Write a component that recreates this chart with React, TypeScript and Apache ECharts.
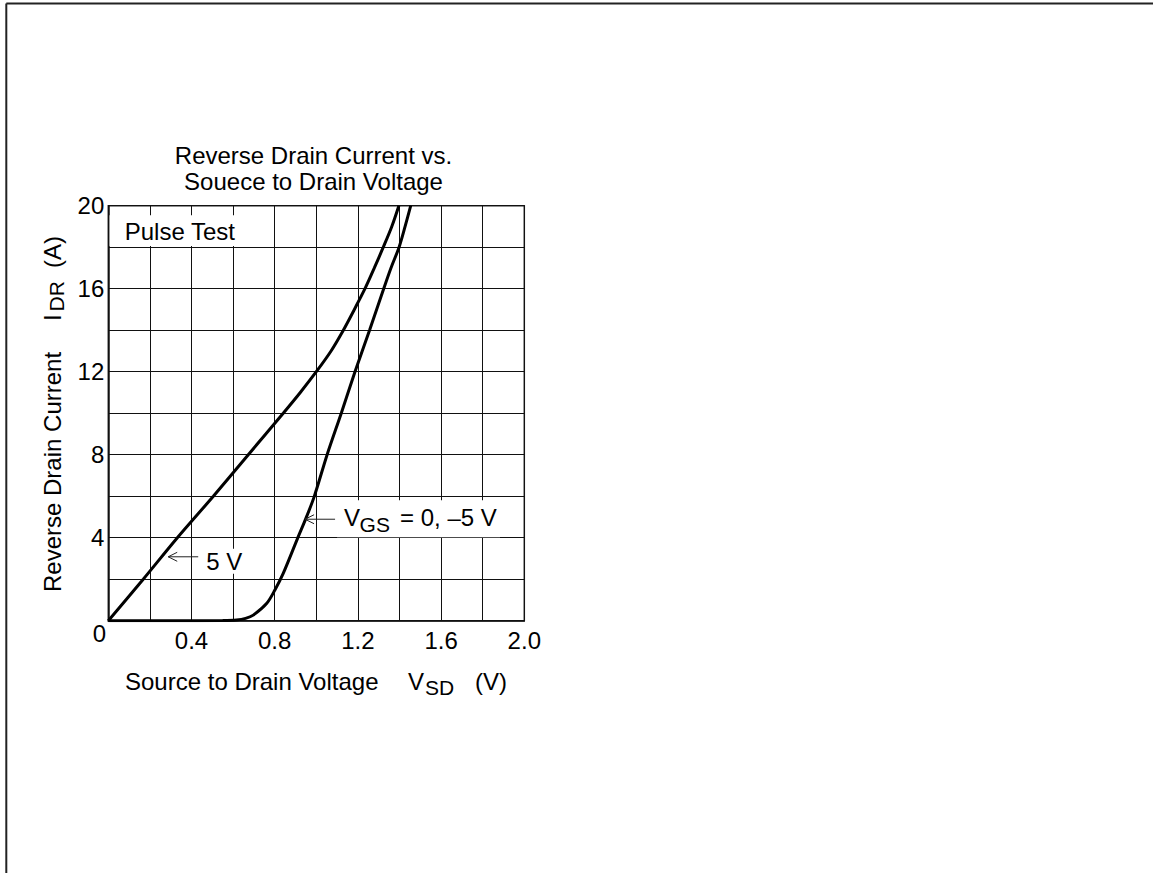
import React, { useEffect, useRef } from "react";
import * as echarts from "echarts";

// Axis ranges
const X_MIN = 0;
const X_MAX = 2.0;
const X_STEP = 0.2;
const Y_MIN = 0;
const Y_MAX = 20;
const Y_STEP = 2;

// Curve "5 V"
const V5_VSD = [0, 0.168, 0.332, 0.505, 0.673, 0.841, 0.923, 1.0, 1.071, 1.13, 1.183, 1.234, 1.279, 1.322, 1.363, 1.397];
const V5_IDR = [0, 2, 4, 6, 8, 10, 11, 12, 13, 14, 15, 16, 17, 18, 19, 20];

// Curve "VGS = 0, -5 V"
const V0_VSD = [0, 0.3, 0.55, 0.617, 0.66, 0.697, 0.762, 0.801, 0.841, 0.91, 0.95, 0.99, 1.052, 1.12, 1.186, 1.256, 1.324, 1.359, 1.398, 1.427, 1.454];
const V0_IDR = [0, 0, 0.005, 0.03, 0.11, 0.27, 0.84, 1.48, 2.28, 3.97, 4.93, 5.98, 8, 10, 12, 14, 16, 17, 18, 19, 20];

const TITLE_LINES = ["Reverse Drain Current vs.", "Souece to Drain Voltage"];

const FONT_FAMILY = '"Liberation Sans", Arial, Helvetica, sans-serif';
const f = (size: number) => `${size}px ${FONT_FAMILY}`;

const zip = (xs: number[], ys: number[]) => xs.map((x, i) => [x, ys[i]]);

export default function App() {
  const ref = useRef<HTMLDivElement | null>(null);

  useEffect(() => {
    document.body.style.margin = "0";
    document.documentElement.style.overflow = "hidden";
    const el = ref.current;
    if (!el) return;
    const chart = echarts.init(el, null, { renderer: "svg" });

    const option: any = {
      animation: false,
      backgroundColor: "#fff",
      grid: {
        left: 108.3,
        right: 1153 - 524.3,
        top: 205.7,
        bottom: 873 - 620.7,
        show: true,
        borderColor: "#222",
        borderWidth: 1.5,
        backgroundColor: "transparent",
      },
      xAxis: {
        type: "value",
        min: X_MIN,
        max: X_MAX,
        interval: X_STEP,
        axisLine: { show: true, lineStyle: { color: "#111", width: 1.5 } },
        axisTick: { show: false },
        splitLine: { show: true, lineStyle: { color: "#111", width: 1 } },
        axisLabel: {
          color: "#000",
          fontSize: 24,
          fontFamily: FONT_FAMILY,
          margin: 8,
          formatter: (v: number) => {
            const k = Math.round(v * 10);
            return k > 0 && k % 4 === 0 ? (k / 10).toFixed(1) : "";
          },
        },
      },
      yAxis: {
        type: "value",
        min: Y_MIN,
        max: Y_MAX,
        interval: Y_STEP,
        axisLine: { show: true, lineStyle: { color: "#111", width: 1.5 } },
        axisTick: { show: false },
        splitLine: { show: true, lineStyle: { color: "#111", width: 1 } },
        axisLabel: {
          color: "#000",
          fontSize: 24,
          fontFamily: FONT_FAMILY,
          margin: 4,
          formatter: (v: number) => {
            const k = Math.round(v);
            return k > 0 && k % 4 === 0 ? String(k) : "";
          },
        },
      },
      series: [
        {
          name: "5 V",
          type: "line",
          data: zip(V5_VSD, V5_IDR),
          showSymbol: false,
          symbol: "none",
          smooth: 0.3,
          lineStyle: { color: "#000", width: 3 },
          z: 5,
        },
        {
          name: "VGS = 0, -5 V",
          type: "line",
          data: zip(V0_VSD, V0_IDR),
          showSymbol: false,
          symbol: "none",
          smooth: 0.3,
          lineStyle: { color: "#000", width: 3 },
          z: 5,
        },
      ],
    };
    chart.setOption(option);

    const p = (x: number, y: number) => chart.convertToPixel({ gridIndex: 0 }, [x, y]) as number[];

    const txt = (text: string, x: number, y: number, size: number, align = "left", rotation = 0) => ({
      type: "text",
      x,
      y,
      rotation,
      z: 60,
      silent: true,
      style: {
        text,
        font: f(size),
        fill: "#000",
        textAlign: align,
        textVerticalAlign: "middle",
      },
    });
    const white = (x1: number, y1: number, x2: number, y2: number) => ({
      type: "rect",
      z: 50,
      silent: true,
      shape: { x: Math.min(x1, x2), y: Math.min(y1, y2), width: Math.abs(x2 - x1), height: Math.abs(y2 - y1) },
      style: { fill: "#fff" },
    });
    const arrow = (tx: number, ty: number, len: number) => [
      {
        type: "line",
        z: 60,
        silent: true,
        shape: { x1: tx, y1: ty, x2: tx + len, y2: ty },
        style: { stroke: "#222", lineWidth: 1 },
      },
      {
        type: "polyline",
        z: 60,
        silent: true,
        shape: { points: [[tx + 9, ty - 4.5], [tx, ty], [tx + 9, ty + 4.5]] },
        style: { stroke: "#222", lineWidth: 1, fill: null },
      },
    ];

    const origin = p(0, 0);
    const pulseA = p(0.006, 19.54);
    const pulseB = p(0.655, 18.06);
    const pulseT = p(0.079, 18.75);
    const t5 = p(0.288, 3.08);
    const t0 = p(0.946, 4.89);

    const graphic: any[] = [
      // page frame
      { type: "line", silent: true, shape: { x1: 6.3, y1: 3.5, x2: 1160, y2: 3.5 }, style: { stroke: "#222", lineWidth: 2 } },
      { type: "line", silent: true, shape: { x1: 6.3, y1: 3.5, x2: 6.3, y2: 880 }, style: { stroke: "#222", lineWidth: 2 } },
      // title
      txt(TITLE_LINES[0], 313.5, 155, 24, "center"),
      txt(TITLE_LINES[1], 313.5, 181.5, 24, "center"),
      // x axis name
      txt("Source to Drain Voltage", 125, 681, 24),
      txt("V", 408, 681, 24),
      txt("SD", 425, 687.5, 21),
      txt("(V)", 475, 681, 24),
      // y axis name (rotated)
      txt("Reverse Drain Current", 52.5, 592, 24, "left", Math.PI / 2),
      txt("I", 52.5, 321, 24, "left", Math.PI / 2),
      txt("DR", 56.7, 311.5, 21, "left", Math.PI / 2),
      txt("(A)", 52.5, 268, 24, "left", Math.PI / 2),
      // corner zero
      txt("0", origin[0] - 8.8, origin[1] + 12.3, 24, "center"),
      // Pulse Test
      white(pulseA[0], pulseA[1], pulseB[0], pulseB[1]),
      txt("Pulse Test", pulseT[0], pulseT[1], 24),
      // 5 V label
      white(t5[0] + 33, t5[1] - 8, t5[0] + 79, t5[1] + 17),
      ...arrow(t5[0], t5[1], 30),
      txt("5 V", t5[0] + 38, t5[1] + 4.8, 24),
      // VGS label
      white(t0[0] + 32, t0[1] - 19, t0[0] + 195, t0[1] + 18),
      ...arrow(t0[0], t0[1], 30),
      txt("V", t0[0] + 39, t0[1] - 1.7, 24),
      txt("GS", t0[0] + 54.5, t0[1] + 4.8, 21),
      txt("= 0, \u20135 V", t0[0] + 95, t0[1] - 1.7, 24),
    ];
    chart.setOption({ graphic });

    return () => {
      chart.dispose();
    };
  }, []);

  return <div ref={ref} style={{ width: 1153, height: 873 }} />;
}
